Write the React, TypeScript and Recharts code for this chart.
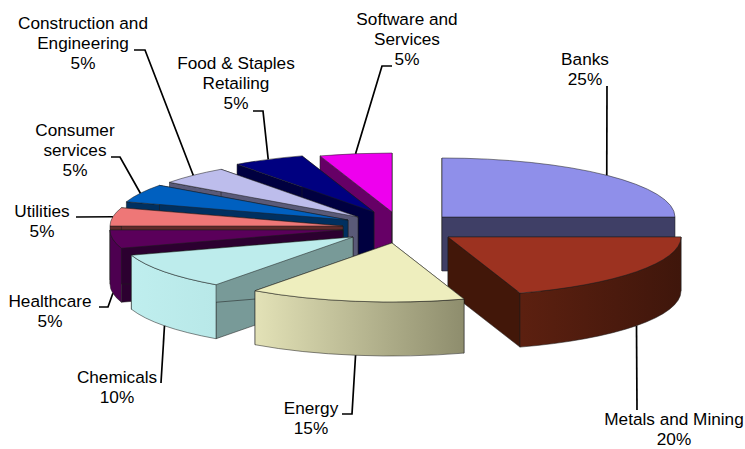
import { Pie, PieChart } from "recharts";

const CHART_WIDTH = 745;
const CHART_HEIGHT = 449;

const categories = [
  "Banks",
  "Metals and Mining",
  "Energy",
  "Chemicals",
  "Healthcare",
  "Utilities",
  "Consumer services",
  "Construction and Engineering",
  "Food & Staples Retailing",
  "Software and Services",
];
const shares = [25, 20, 15, 10, 5, 5, 5, 5, 5, 5];

// Back-to-front, so nearer wedges cover the ones behind them
const paintOrder = [
  "Banks",
  "Metals and Mining",
  "Software and Services",
  "Food & Staples Retailing",
  "Construction and Engineering",
  "Consumer services",
  "Utilities",
  "Healthcare",
  "Chemicals",
  "Energy",
];

const topColors = ["#8f8fea", "#9c3220", "#eeeebe", "#bdecec", "#5a005a", "#ee7777", "#0060c0", "#bdbdec", "#000080", "#ee00ee"];
const cutColors = ["#3f3f66", "#421709", "#8e8d6d", "#789a98", "#2c0030", "#5f2a2a", "#003060", "#5a5a78", "#000040", "#660066"];
const rimLeftColors = ["#3f3f66", "#5c2010", "#e3e2b7", "#bfeeee", "#4d0050", "#5f2a2a", "#003060", "#5a5a78", "#000040", "#660066"];
const rimRightColors = ["#3f3f66", "#3f160b", "#8e8d6d", "#b8e8e8", "#4d0050", "#5f2a2a", "#003060", "#5a5a78", "#000040", "#660066"];

// How far each wedge is pulled out of the pie
const explodeX = [50, 56, 0, -39, -49, -49, -44, -34, -18, 0];
const explodeY = [-3, 17, 23, 17, 10, 6, 0, -3, -8, -8];

const labelLines = [
  ["Banks"],
  ["Metals and Mining"],
  ["Energy"],
  ["Chemicals"],
  ["Healthcare"],
  ["Utilities"],
  ["Consumer", "services"],
  ["Construction and", "Engineering"],
  ["Food & Staples", "Retailing"],
  ["Software and", "Services"],
];
// Centre of the label block and baseline of its first line
const labelX = [585, 674, 311, 117, 50, 42, 75, 83, 236, 407];
const labelY = [65, 425, 414, 383, 307, 217, 136, 29, 69, 25];
// Free ends of the leader lines, elbow first
const leaderEnds = [
  [[607, 86]],
  [[637, 410]],
  [[352, 414], [342, 414]],
  [[161, 383]],
  [[108, 307], [99, 307]],
  [[76, 217]],
  [[120, 157], [111, 157]],
  [[145, 50], [134, 50]],
  [[263, 111], [253, 111]],
  [[382, 66], [392, 66]],
];

const sliceData = categories.map((name, i) => ({ name, value: shares[i] }));

const PIE_CX = 392;
const PIE_CY = 220;
const RADIUS = 233;
const SQUASH = 59 / 233;
const DEPTH = 54;

const rad = (deg: number) => (deg * Math.PI) / 180;
const rimPoint = (ox: number, oy: number, r: number, t: number) => [
  ox + r * Math.cos(rad(t)),
  oy + r * SQUASH * Math.sin(rad(t)),
];

const edgeStyle = { stroke: "#1c1c1c", strokeWidth: 0.7, strokeOpacity: 0.75, strokeLinejoin: "round" as const };

function Wedge({ cx, cy, outerRadius, startAngle, endAngle, index }: any) {
  const ox = cx + explodeX[index];
  const oy = cy + explodeY[index];
  const ry = outerRadius * SQUASH;
  const t0 = -startAngle;
  const t1 = -endAngle;
  const [ax, ay] = rimPoint(ox, oy, outerRadius, t0);
  const [bx, by] = rimPoint(ox, oy, outerRadius, t1);
  const gradientId = `rim-${index}`;

  const cutFace = (x: number, y: number) =>
    `M${ox},${oy}L${x},${y}L${x},${y + DEPTH}L${ox},${oy + DEPTH}Z`;

  // Outer wall only shows on the near half of the ellipse
  const rimStart = Math.max(t0, 0);
  const rimEnd = Math.min(t1, 180);
  let rimPath = null;
  if (rimStart < rimEnd) {
    const [sx, sy] = rimPoint(ox, oy, outerRadius, rimStart);
    const [ex, ey] = rimPoint(ox, oy, outerRadius, rimEnd);
    rimPath =
      `M${sx},${sy}A${outerRadius},${ry} 0 0 1 ${ex},${ey}` +
      `L${ex},${ey + DEPTH}A${outerRadius},${ry} 0 0 0 ${sx},${sy + DEPTH}Z`;
  }

  return (
    <g>
      <defs>
        <linearGradient id={gradientId} x1="0" x2="1" y1="0" y2="0">
          <stop offset="0%" stopColor={rimLeftColors[index]} />
          <stop offset="100%" stopColor={rimRightColors[index]} />
        </linearGradient>
      </defs>
      <path d={cutFace(ax, ay)} fill={cutColors[index]} {...edgeStyle} />
      <path d={cutFace(bx, by)} fill={cutColors[index]} {...edgeStyle} />
      {rimPath && <path d={rimPath} fill={`url(#${gradientId})`} {...edgeStyle} />}
      <path
        d={`M${ox},${oy}L${ax},${ay}A${outerRadius},${ry} 0 0 1 ${bx},${by}Z`}
        fill={topColors[index]}
        {...edgeStyle}
      />
    </g>
  );
}

function SliceLabel({ cx, cy, outerRadius, midAngle, index, value }: any) {
  const ox = cx + explodeX[index];
  const oy = cy + explodeY[index];
  const t = ((-midAngle % 360) + 360) % 360;
  const [rx, ry] = rimPoint(ox, oy, outerRadius, t);
  const startY = t < 180 ? ry + DEPTH : ry;
  const points = [[rx, startY], ...leaderEnds[index]].map((p) => p.join(",")).join(" ");
  const lines = [...labelLines[index], `${value}%`];

  return (
    <g>
      <polyline points={points} fill="none" stroke="#000" strokeWidth={1.7} />
      <text
        x={labelX[index]}
        y={labelY[index]}
        textAnchor="middle"
        fontFamily="'Liberation Sans', Arial, sans-serif"
        fontSize={17.2}
        fill="#000"
      >
        {lines.map((line, i) => (
          <tspan key={i} x={labelX[index]} y={labelY[index] + i * 20}>
            {line}
          </tspan>
        ))}
      </text>
    </g>
  );
}

export default function App() {
  return (
    <div style={{ position: "absolute", left: 0, top: 0, background: "#fff" }}>
      <PieChart width={CHART_WIDTH} height={CHART_HEIGHT} margin={{ top: 0, right: 0, bottom: 0, left: 0 }}>
        {paintOrder.map((name) => (
          <Pie
            key={name}
            data={sliceData}
            dataKey="value"
            nameKey="name"
            cx={PIE_CX}
            cy={PIE_CY}
            outerRadius={RADIUS}
            startAngle={90}
            endAngle={-270}
            isAnimationActive={false}
            rootTabIndex={-1}
            shape={(props: any) => (props.name === name ? <Wedge {...props} index={categories.indexOf(name)} /> : <g />)}
          />
        ))}
        <Pie
          data={sliceData}
          dataKey="value"
          nameKey="name"
          cx={PIE_CX}
          cy={PIE_CY}
          outerRadius={RADIUS}
          startAngle={90}
          endAngle={-270}
          isAnimationActive={false}
          rootTabIndex={-1}
          shape={() => <g />}
          labelLine={false}
          label={(props: any) => <SliceLabel {...props} />}
        />
      </PieChart>
    </div>
  );
}
